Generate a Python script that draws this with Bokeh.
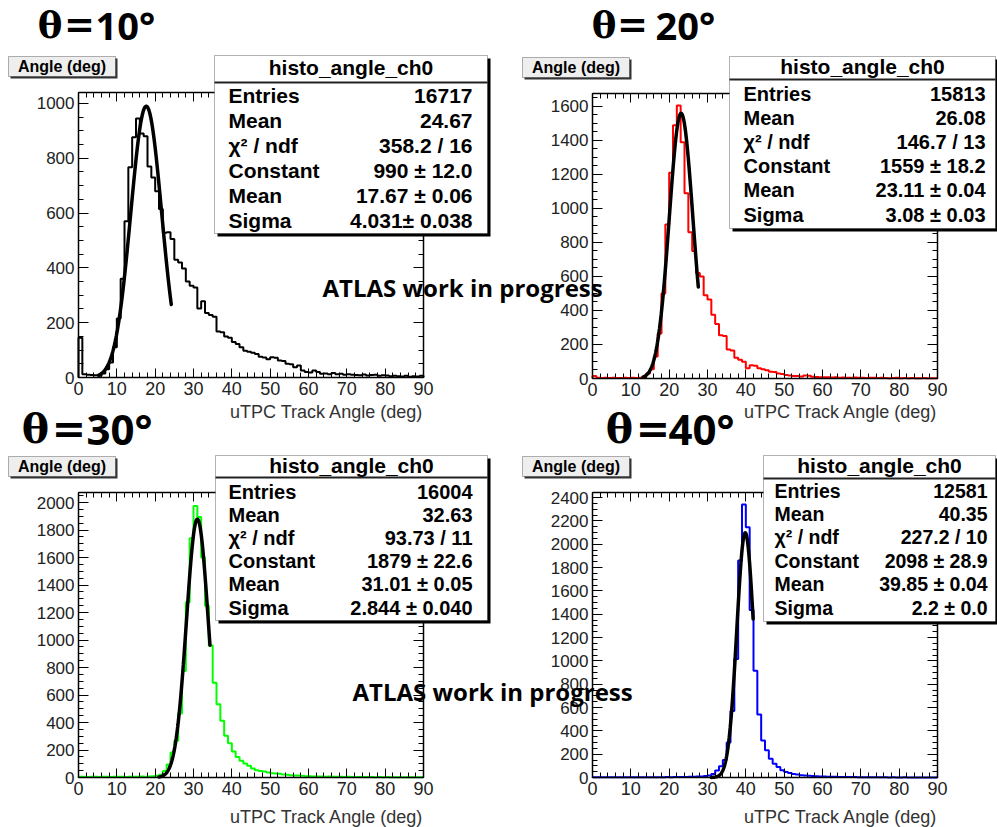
import numpy as np
from bokeh.plotting import figure
from bokeh.models import (Range1d, FixedTicker, LinearAxis, Label, BoxAnnotation, AllLabels)
from bokeh.embed import file_html
from bokeh.resources import INLINE

# ---------------------------------------------------------------- data
theta_deg = ["10", "20", "30", "40"]
hist_colors = ["#000000", "#ff0000", "#00ff00", "#0000ff"]

# uTPC track angle histograms, 1 degree bins from 0 to 90
counts_10 = [145, 12, 10, 9, 8, 6, 15, 30, 55, 110,
             215, 360, 570, 767, 877, 945, 890, 880, 770, 730,
             680, 615, 528, 530, 505, 430, 420, 398, 350, 335,
             328, 252, 278, 235, 228, 222, 168, 165, 150, 145,
             130, 122, 110, 98, 94, 90, 86, 76, 73, 67,
             74, 72, 62, 60, 50, 48, 37, 44, 26, 20,
             18, 26, 20, 14, 15, 12, 16, 12, 14, 10,
             12, 10, 9, 8, 11, 7, 9, 10, 6, 8,
             7, 5, 6, 5, 4, 6, 3, 5, 4, 6]
counts_20 = [15, 4, 3, 4, 3, 4, 3, 3, 4, 3,
             4, 3, 4, 8, 30, 55, 130, 265, 500, 905,
             1210, 1490, 1605, 1390, 1090, 860, 750, 620, 600, 490,
             465, 375, 320, 255, 250, 170, 165, 122, 110, 98,
             60, 78, 75, 60, 55, 48, 40, 38, 30, 27,
             20, 18, 14, 14, 12, 18, 16, 10, 9, 8,
             7, 8, 6, 7, 5, 6, 5, 4, 6, 4,
             5, 3, 4, 4, 3, 5, 3, 2, 3, 4,
             2, 3, 2, 3, 2, 2, 3, 2, 1, 2]
counts_30 = [6, 5, 4, 6, 5, 4, 5, 6, 4, 5,
             6, 5, 4, 6, 5, 6, 7, 6, 8, 9,
             12, 20, 48, 95, 182, 267, 465, 775, 1275, 1740,
             1975, 1895, 1600, 1250, 960, 690, 533, 412, 303, 250,
             190, 150, 121, 102, 85, 65, 53, 48, 44, 36,
             31, 29, 27, 22, 20, 17, 15, 14, 12, 10,
             9, 8, 8, 7, 6, 7, 5, 6, 5, 4,
             5, 4, 4, 3, 4, 3, 3, 2, 3, 2,
             3, 2, 2, 1, 2, 2, 1, 2, 1, 1]
counts_40 = [3, 2, 3, 2, 2, 3, 2, 3, 2, 3,
             2, 2, 3, 2, 3, 3, 2, 3, 3, 4,
             3, 4, 4, 5, 5, 6, 7, 8, 9, 12,
             18, 31, 60, 97, 150, 300, 570, 1015, 1860, 2340,
             2145, 1435, 915, 540, 317, 233, 160, 118, 90, 62,
             48, 38, 30, 25, 20, 18, 15, 12, 10, 8,
             8, 7, 6, 6, 5, 5, 4, 4, 4, 3,
             3, 3, 2, 3, 2, 2, 2, 1, 2, 1,
             1, 2, 1, 1, 1, 0, 1, 1, 0, 1]
all_counts = [counts_10, counts_20, counts_30, counts_40]

# statistics / gaussian fit results
hist_name = "histo_angle_ch0"
entries = [16717, 15813, 16004, 12581]
hist_mean = ["24.67", "26.08", "32.63", "40.35"]
chi2_ndf = ["358.2 / 16", "146.7 / 13", "93.73 / 11", "227.2 / 10"]
fit_constant = [990, 1559, 1879, 2098]
fit_constant_err = ["12.0", "18.2", "22.6", "28.9"]
fit_mean = [17.67, 23.11, 31.01, 39.85]
fit_mean_err = ["0.06", "0.04", "0.05", "0.04"]
fit_sigma = [4.031, 3.08, 2.844, 2.2]
fit_sigma_err = ["0.038", "0.03", "0.040", "0.0"]
sigma_gap = ["", " ", " ", " "]
fit_low = [5.3, 13.2, 21.0, 31.0]
fit_high = [24.2, 27.6, 34.3, 41.9]

x_major = list(range(0, 91, 10))
x_minor = list(range(0, 91, 2))
x_max = 90
y_top = [1040, 1676, 2073, 2443]

# ---------------------------------------------------------------- page geometry (pixels)
W, H = 997, 827
# plot frame of each panel: left, top, right, bottom
FRAMES = [(78, 92, 423, 377), (592, 93, 937, 378),
          (78, 492, 423, 777), (592, 492, 937, 777)]

STAT_BOX = [(214, 55, 487, 233), (729, 56, 995, 228),
            (215, 455, 487, 620), (763, 455, 995, 621)]
STAT_SEP = [82, 79, 477, 478]
STAT_HEAD_Y = [67, 66, 465, 465]
STAT_ROW0 = [95, 93, 491, 490]
STAT_STEP = [25, 24.2, 23.2, 23.4]
STAT_NAME_X = [228, 743, 228, 774]
STAT_VAL_X = [472, 985, 472, 987]
STAT_FONT = [21, 20, 20, 19.5]

# big panel titles: theta centre, "=" centre, number left edge, vertical centre, size
TITLE_POS = [(49.5, 79, 95, 24, 37), (603.5, 632, 655, 24, 37),
             (35, 68.5, 86, 428, 41), (619, 652.5, 668, 428, 41)]
AXIS_TITLE_Y = [411, 411, 816, 816]
ATLAS_POS = [(322, 287), (352, 691)]

SANS = "Liberation Sans"

# one canvas for the whole page; each panel gets its own pair of ranges
p = figure(width=W, height=H, x_range=Range1d(0, W), y_range=Range1d(0, H),
           output_backend="svg", toolbar_location=None, title=None,
           x_axis_type=None, y_axis_type=None, min_border=0,
           background_fill_color="white", border_fill_color="white")
p.outline_line_color = None

xr, yr = {}, {}
for i, (fl, ft, fr, fb) in enumerate(FRAMES):
    xspan = x_max * W / (fr - fl)
    x0 = -fl * x_max / (fr - fl)
    xr[f"x{i}"] = Range1d(x0, x0 + xspan)
    yspan = y_top[i] * H / (fb - ft)
    y0 = -(H - fb) * y_top[i] / (fb - ft)
    yr[f"y{i}"] = Range1d(y0, y0 + yspan)
p.extra_x_ranges = xr
p.extra_y_ranges = yr


def panel_axis(i, side, ticker, loc, bounds, tick_in, minor_in, label_size, show_labels):
    ax = LinearAxis(x_range_name=f"x{i}", y_range_name=f"y{i}", ticker=ticker,
                    fixed_location=loc, bounds=bounds,
                    axis_line_color="black", axis_line_width=1.5,
                    major_tick_line_color="black", minor_tick_line_color="black",
                    major_tick_in=tick_in, major_tick_out=0,
                    minor_tick_in=minor_in, minor_tick_out=0,
                    major_label_policy=AllLabels(), major_label_standoff=4,
                    major_label_text_font=SANS, major_label_text_font_size=label_size,
                    major_label_text_color="#222222" if show_labels else None)
    p.add_layout(ax, side)


for i in range(4):
    xt = FixedTicker(ticks=x_major, minor_ticks=x_minor)
    yt = FixedTicker(ticks=list(range(0, y_top[i] + 1, 200)),
                     minor_ticks=list(range(0, y_top[i] + 1, 50)))
    xb = (0, x_max)
    yb = (0, y_top[i])
    panel_axis(i, "below", xt, 0, xb, 9, 5, "18px", True)
    panel_axis(i, "above", xt, y_top[i], xb, 9, 5, "18px", False)
    panel_axis(i, "left", yt, 0, yb, 10, 5, "17px", True)
    panel_axis(i, "right", yt, x_max, yb, 10, 5, "17px", False)

    # histogram outline drawn as stairs over the bin edges
    counts = np.asarray(all_counts[i], dtype=float)
    edges = np.arange(len(counts) + 1, dtype=float)
    sx = np.repeat(edges, 2)
    sy = np.concatenate([[0.0], np.repeat(counts, 2), [0.0]])
    p.line(sx, sy, x_range_name=f"x{i}", y_range_name=f"y{i}",
           line_color=hist_colors[i], line_width=2)

    # gaussian fit over its fitted range
    fx = np.linspace(fit_low[i], fit_high[i], 200)
    fy = fit_constant[i] * np.exp(-0.5 * ((fx - fit_mean[i]) / fit_sigma[i]) ** 2)
    p.line(fx, fy, x_range_name=f"x{i}", y_range_name=f"y{i}",
           line_color="black", line_width=3.5, line_cap="round")


def page_label(x, y, text, **kw):
    p.add_layout(Label(x=x, y=H - y, text=text, **kw))


def page_box(l, t, r, b, **kw):
    p.add_layout(BoxAnnotation(left=l, right=r, top=H - t, bottom=H - b, **kw))


for i in range(4):
    fl, ft, fr, fb = FRAMES[i]

    # histogram title box
    page_box(fl - 68, ft - 34, fl + 39, ft - 14, fill_color="#333333", fill_alpha=1,
             line_color=None)
    page_box(fl - 70, ft - 36, fl + 37, ft - 16, fill_color="#eeeeee", fill_alpha=1,
             line_color="black", line_width=1)
    page_label(fl - 16.5, ft - 26, "Angle (deg)", text_font=SANS, text_font_style="bold",
               text_font_size="16px", text_align="center", text_baseline="middle",
               text_color="black")

    # x axis title
    page_label(fr, AXIS_TITLE_Y[i], "uTPC Track Angle (deg)", text_font=SANS,
               text_font_size="18px", text_align="right", text_baseline="middle",
               text_color="#333333")

    # statistics box
    l, t, r, b = STAT_BOX[i]
    page_box(l + 3, t + 3, min(r + 3, W), b + 3, fill_color="black", fill_alpha=1,
             line_color=None)
    page_box(l, t, r, b, fill_color="white", fill_alpha=1, line_color="black", line_width=1)
    page_box(l, STAT_SEP[i] - 1, r, STAT_SEP[i] + 1, fill_color="#222222", fill_alpha=1,
             line_color=None)
    fs = f"{STAT_FONT[i]}px"
    page_label((l + r) / 2, STAT_HEAD_Y[i], hist_name, text_font=SANS,
               text_font_style="bold", text_font_size="21px", text_align="center",
               text_baseline="middle", text_color="black")
    names = ["Entries", "Mean", "χ² / ndf", "Constant", "Mean", "Sigma"]
    vals = [str(entries[i]), hist_mean[i], chi2_ndf[i],
            f"{fit_constant[i]} ± {fit_constant_err[i]}",
            f"{fit_mean[i]} ± {fit_mean_err[i]}",
            f"{fit_sigma[i]}{sigma_gap[i]}± {fit_sigma_err[i]}"]
    for j, (nm, vv) in enumerate(zip(names, vals)):
        yy = STAT_ROW0[i] + j * STAT_STEP[i]
        page_label(STAT_NAME_X[i], yy, nm, text_font=SANS, text_font_style="bold",
                   text_font_size=fs, text_align="left", text_baseline="middle",
                   text_color="black")
        page_label(STAT_VAL_X[i], yy, vv, text_font=SANS, text_font_style="bold",
                   text_font_size=fs, text_align="right", text_baseline="middle",
                   text_color="black")

    # big angle title
    tx, ex, nx, cy, sz = TITLE_POS[i]
    page_label(tx, cy, "θ", text_font="DejaVu Serif", text_font_style="bold",
               text_font_size=f"{sz}px", text_align="center", text_baseline="middle",
               text_color="black")
    page_label(ex, cy, "=", text_font="DejaVu Sans", text_font_style="bold",
               text_font_size=f"{sz}px", text_align="center", text_baseline="middle",
               text_color="black")
    page_label(nx, cy, theta_deg[i] + "°", text_font="Open Sans", text_font_style="bold",
               text_font_size=f"{sz + 1}px", text_align="left", text_baseline="middle",
               text_color="black")

for ax_, ay_ in ATLAS_POS:
    page_label(ax_, ay_, "ATLAS work in progress", text_font="Open Sans",
               text_font_style="bold", text_font_size="24px", text_align="left",
               text_baseline="middle", text_color="black")

open("out.html", "w").write(file_html(p, INLINE))
